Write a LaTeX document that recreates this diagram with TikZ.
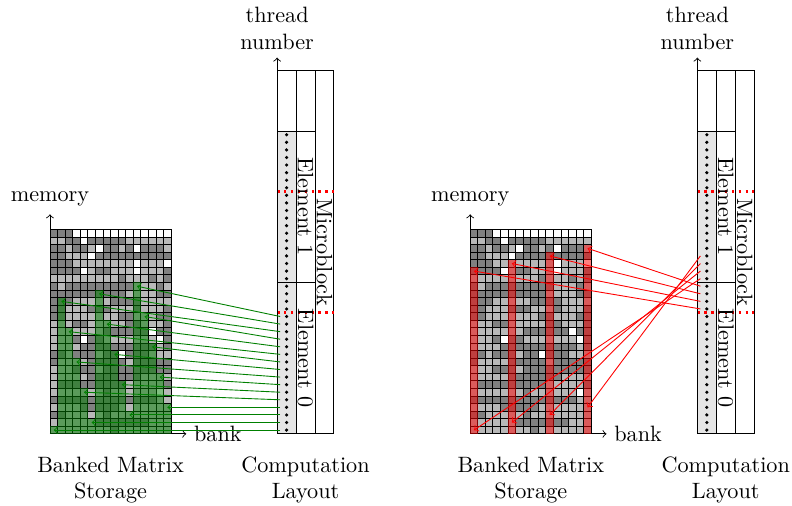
\documentclass[tikz,border=0pt]{standalone}
\colorlet{darkcell}{black!50}
\colorlet{lightcell}{black!28}
\colorlet{threadfill}{black!10}
\colorlet{storegreen}{green!50!black}

\newcommand{\bankpanel}[1]{%
  \pgfmathsetseed{2718}
  \gdef\prevstate{2}
  % banked matrix storage
  \foreach \row in {0,...,25}
    \foreach \col in {0,...,15}{
      \pgfmathrandominteger{\keep}{0}{99}
      \pgfmathrandominteger{\val}{0}{99}
      \ifnum\val<5 \def\state{0}\else\ifnum\val<52 \def\state{1}\else\def\state{2}\fi\fi
      \ifnum\keep<55 \ifnum\val>4 \ifnum\prevstate>0 \let\state\prevstate\fi\fi\fi
      \global\let\prevstate\state
      \ifcase\state\def\cellcol{white}\or\def\cellcol{lightcell}\else\def\cellcol{darkcell}\fi
      \draw[cell=\cellcol] (\col,\row) rectangle ++(1,1);
    }
  \foreach \col in {0,...,15}{
    \ifnum\col<3 \def\cellcol{darkcell}\else\def\cellcol{white}\fi
    \draw[cell=\cellcol] (\col,26) rectangle ++(1,1);
  }
  \draw[axis] (0,0) -- (0,29) node[above] (#1-mem) {memory};
  \draw[axis] (0,0) -- (18,0) node[right] (#1-bank) {bank};
  \node[caption] (#1-store) at (8,-6.1) {Banked Matrix\\Storage};
  % computation layout
  \fill[threadfill] (30,0) rectangle (32.5,40);
  \draw (30,0) rectangle (37.5,48);
  \draw (32.5,0) -- (32.5,48) (35,0) -- (35,48);
  \draw (30,20) -- (35,20) (30,40) -- (35,40);
  \draw[block_line] (30,16) -- (37.5,16);
  \draw[block_line] (30,32) -- (37.5,32);
  \foreach \k in {0,...,39}
    \node[thread_dot] (#1-dot-\k) at (31.25,\k+.5) {};
  \foreach \k in {0,...,47}
    \coordinate (#1-th-\k) at (30.4,\k+.5);
  \node[element] (#1-el0) at (33.75,10) {Element 0};
  \node[element] (#1-el1) at (33.75,30) {Element 1};
  \node[element] (#1-mb) at (36.25,24) {Microblock};
  \draw[axis] (30,0) -- (30,49.7) node[above, align=center] (#1-thr) {thread\\number};
  \node[caption] (#1-comp) at (33.75,-6.1) {Computation\\Layout};
}

\begin{document}
\begin{tikzpicture}[x=3.41pt, y=3.41pt,
    cell/.style={draw=black, fill=#1},
    axis/.style={->},
    caption/.style={align=center},
    element/.style={rotate=-90},
    thread_dot/.style={circle, fill=black, inner sep=0pt, minimum size=1.6pt},
    block_line/.style={draw=red, dotted, line width=1.1pt},
    green_bar/.style={fill=storegreen, fill opacity=0.5},
    red_bar/.style={fill=red, fill opacity=0.5},
    green_arrow/.style={->, draw=storegreen},
    red_arrow/.style={->, draw=red},
    ]
    \useasboundingbox (-6.6,-9.5) rectangle (98,57.3);

    \begin{scope}
      \bankpanel{L}
      \foreach \tid in {0,...,15}{
        \pgfmathtruncatemacro\col{mod(5*\tid,16)}
        \pgfmathtruncatemacro\row{\tid+floor(5*\tid/16)}
        \fill[green_bar] (\col,0) rectangle (\col+1,\row+1);
        \coordinate (L-cell-\tid) at (\col+.5,\row+.5);
      }
      \foreach \tid in {0,...,15}
        \draw[green_arrow] (L-th-\tid) -- (L-cell-\tid);
    \end{scope}

    \begin{scope}[shift={(55.5,0)}]
      \bankpanel{R}
      \foreach \k in {0,...,3}{
        \fill[red_bar] (5*\k,0) rectangle (5*\k+1,22+\k);
        \coordinate (R-top-\k) at (5*\k+.5,21.5+\k);
        \coordinate (R-bot-\k) at (5*\k+.5,\k+.5);
      }
      \foreach \k in {0,...,3}{
        \pgfmathtruncatemacro\up{16+\k}
        \pgfmathtruncatemacro\down{20+\k}
        \draw[red_arrow] (R-th-\up) -- (R-top-\k);
        \draw[red_arrow] (R-th-\down) -- (R-bot-\k);
      }
    \end{scope}

\end{tikzpicture}
\end{document}
